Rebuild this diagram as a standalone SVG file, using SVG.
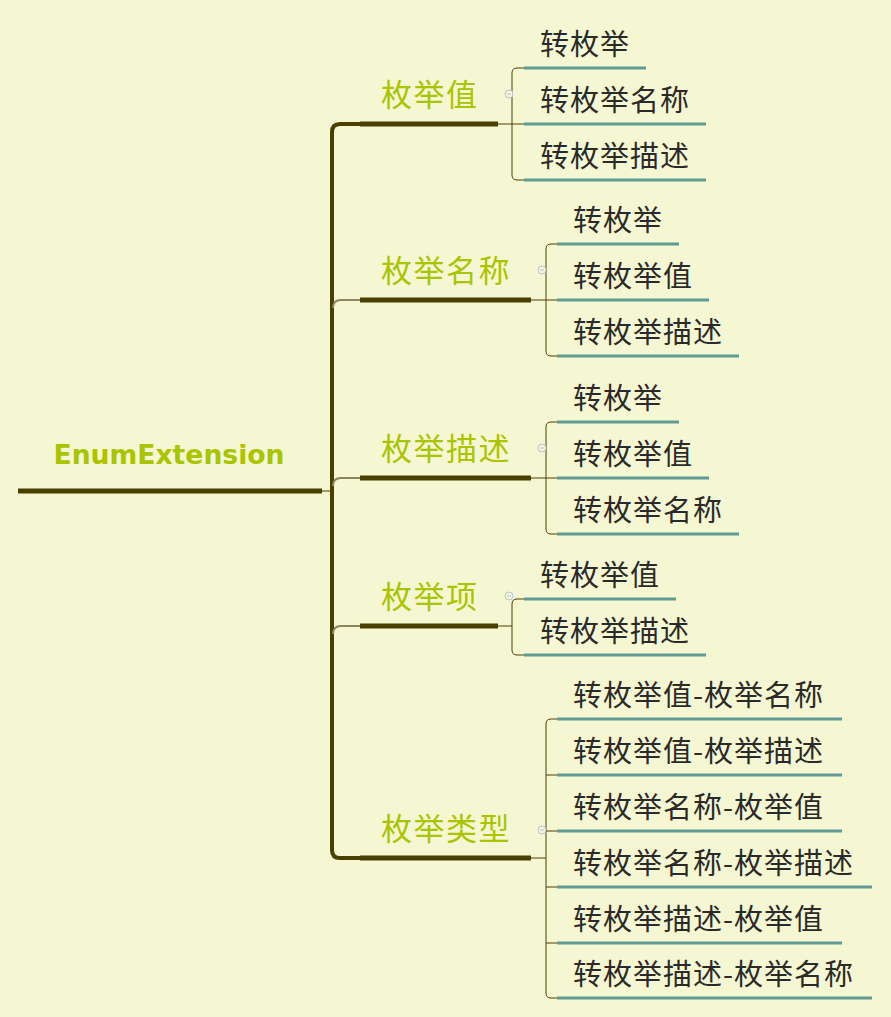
<svg xmlns="http://www.w3.org/2000/svg" width="891" height="1017" viewBox="0 0 891 1017">
<style>
.c{font-family:"Noto Sans CJK SC","Liberation Sans",sans-serif;font-size:29px;letter-spacing:1px;fill:#2a2a2a}
.b{font-family:"Noto Sans CJK SC","Liberation Sans",sans-serif;font-size:31px;letter-spacing:1.5px;fill:#a9c400}
.u{stroke:#5f9a94;stroke-width:3}
.bu{stroke:#4a3f00;stroke-width:5}
.br{fill:none;stroke:#4a3f00;stroke-width:1}
.k{fill:#f5f7d2;stroke:#b8c0e0;stroke-width:1}
</style>
<rect width="891" height="1017" fill="#f5f7d2"/>
<g id="connectors" fill="none" stroke="#4a3f00">
<line x1="18" y1="491" x2="322" y2="491" stroke-width="5"/>
<line x1="322" y1="491" x2="332" y2="491" stroke-width="1"/>
<path d="M360,124 H340 Q332,124 332,132 V850 Q332,858 340,858 H360" stroke-width="4"/>
<path d="M333,308 Q333,300 341,300 H360" stroke-width="2" stroke="#8a8660"/>
<path d="M333,486 Q333,478 341,478 H360" stroke-width="2" stroke="#8a8660"/>
<path d="M333,634 Q333,626 341,626 H360" stroke-width="2" stroke="#8a8660"/>
<line x1="498" y1="124" x2="524" y2="124" class="br"/>
<line x1="531" y1="300" x2="557" y2="300" class="br"/>
<line x1="531" y1="478" x2="557" y2="478" class="br"/>
<line x1="498" y1="626" x2="512" y2="626" class="br"/>
<line x1="531" y1="858" x2="546" y2="858" class="br"/>
<path class="br" d="M524,68 H517 Q512,68 512,73 V175 Q512,180 517,180 H524"/>
<path class="br" d="M557,244 H551 Q546,244 546,249 V351 Q546,356 551,356 H557"/>
<path class="br" d="M557,422 H551 Q546,422 546,427 V529 Q546,534 551,534 H557"/>
<path class="br" d="M524,599 H517 Q512,599 512,604 V650 Q512,655 517,655 H524"/>
<path class="br" d="M557,719 H551 Q546,719 546,724 V993 Q546,998 551,998 H557 M546,775 H557 M546,831 H557 M546,887 H557 M546,943 H557"/>
</g>
<g id="root"><text x="169" y="464" text-anchor="middle" font-family="DejaVu Sans" font-weight="bold" font-size="27" fill="#a9c400" textLength="231" lengthAdjust="spacingAndGlyphs">EnumExtension</text></g>
<g id="b1"><text class="b" x="381" y="106">枚举值</text><line class="bu" x1="360" y1="124" x2="498" y2="124"/><circle class="k" cx="509" cy="94" r="4"/><line x1="507" y1="94" x2="511" y2="94" stroke="#b8c0e0"/></g>
<g id="b2"><text class="b" x="381" y="282">枚举名称</text><line class="bu" x1="360" y1="300" x2="531" y2="300"/><circle class="k" cx="542" cy="270" r="4"/><line x1="540" y1="270" x2="544" y2="270" stroke="#b8c0e0"/></g>
<g id="b3"><text class="b" x="381" y="460">枚举描述</text><line class="bu" x1="360" y1="478" x2="531" y2="478"/><circle class="k" cx="542" cy="448" r="4"/><line x1="540" y1="448" x2="544" y2="448" stroke="#b8c0e0"/></g>
<g id="b4"><text class="b" x="381" y="608">枚举项</text><line class="bu" x1="360" y1="626" x2="498" y2="626"/><circle class="k" cx="509" cy="596" r="4"/><line x1="507" y1="596" x2="511" y2="596" stroke="#b8c0e0"/></g>
<g id="b5"><text class="b" x="381" y="840">枚举类型</text><line class="bu" x1="360" y1="858" x2="531" y2="858"/><circle class="k" cx="542" cy="830" r="4"/><line x1="540" y1="830" x2="544" y2="830" stroke="#b8c0e0"/></g>
<g id="n1a"><text class="c" x="540" y="55">转枚举</text><line class="u" x1="524" y1="68" x2="646" y2="68"/></g>
<g id="n1b"><text class="c" x="540" y="111">转枚举名称</text><line class="u" x1="524" y1="124" x2="706" y2="124"/></g>
<g id="n1c"><text class="c" x="540" y="167">转枚举描述</text><line class="u" x1="524" y1="180" x2="706" y2="180"/></g>
<g id="n2a"><text class="c" x="573" y="231">转枚举</text><line class="u" x1="557" y1="244" x2="679" y2="244"/></g>
<g id="n2b"><text class="c" x="573" y="287">转枚举值</text><line class="u" x1="557" y1="300" x2="709" y2="300"/></g>
<g id="n2c"><text class="c" x="573" y="343">转枚举描述</text><line class="u" x1="557" y1="356" x2="739" y2="356"/></g>
<g id="n3a"><text class="c" x="573" y="409">转枚举</text><line class="u" x1="557" y1="422" x2="679" y2="422"/></g>
<g id="n3b"><text class="c" x="573" y="465">转枚举值</text><line class="u" x1="557" y1="478" x2="709" y2="478"/></g>
<g id="n3c"><text class="c" x="573" y="521">转枚举名称</text><line class="u" x1="557" y1="534" x2="739" y2="534"/></g>
<g id="n4a"><text class="c" x="540" y="586">转枚举值</text><line class="u" x1="524" y1="599" x2="676" y2="599"/></g>
<g id="n4b"><text class="c" x="540" y="642">转枚举描述</text><line class="u" x1="524" y1="655" x2="706" y2="655"/></g>
<g id="n5a"><text class="c" x="573" y="706">转枚举值-枚举名称</text><line class="u" x1="557" y1="719" x2="842" y2="719"/></g>
<g id="n5b"><text class="c" x="573" y="762">转枚举值-枚举描述</text><line class="u" x1="557" y1="775" x2="842" y2="775"/></g>
<g id="n5c"><text class="c" x="573" y="818">转枚举名称-枚举值</text><line class="u" x1="557" y1="831" x2="842" y2="831"/></g>
<g id="n5d"><text class="c" x="573" y="874">转枚举名称-枚举描述</text><line class="u" x1="557" y1="887" x2="872" y2="887"/></g>
<g id="n5e"><text class="c" x="573" y="930">转枚举描述-枚举值</text><line class="u" x1="557" y1="943" x2="842" y2="943"/></g>
<g id="n5f"><text class="c" x="573" y="985">转枚举描述-枚举名称</text><line class="u" x1="557" y1="998" x2="872" y2="998"/></g>
</svg>
